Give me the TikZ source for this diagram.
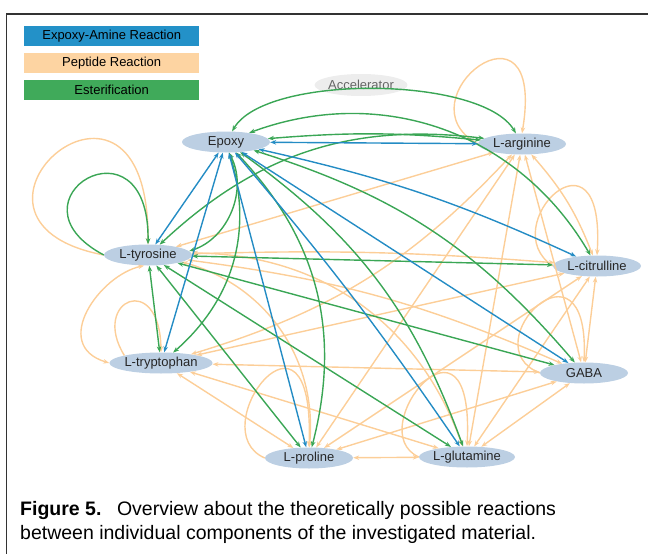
\documentclass[tikz,border=0pt]{standalone}
\usepackage{fontspec}
\setmainfont{Liberation Sans}
\usetikzlibrary{arrows.meta,shapes.geometric}

\definecolor{nodeblue}{RGB}{188,207,227}
\definecolor{amineblue}{RGB}{36,140,196}
\definecolor{estergreen}{RGB}{58,166,85}
\definecolor{peptideorange}{RGB}{252,206,152}
\definecolor{legendblue}{RGB}{35,145,200}
\definecolor{legendpeach}{RGB}{253,212,162}
\definecolor{legendgreen}{RGB}{64,170,90}

\begin{document}
\begin{tikzpicture}[x=1pt,y=1pt,
  compound/.style={ellipse, fill=nodeblue, minimum width=88pt, minimum height=21pt,
    inner sep=0pt, text=black!85, font=\fontsize{13}{15}\selectfont},
  amine/.style={draw=amineblue, line width=1.4pt,
    {Stealth[length=6pt,width=4.5pt]}-{Stealth[length=6pt,width=4.5pt]}},
  ester/.style={amine, draw=estergreen},
  peptide/.style={amine, draw=peptideorange},
  selfloop/.style={-{Stealth[length=6pt,width=4.5pt]}},
  legendbox/.style={anchor=north west, minimum width=175pt, minimum height=20pt,
    inner sep=0pt, font=\fontsize{13}{15}\selectfont}]
\useasboundingbox (0,0) rectangle (648,-554);
\draw[line width=1.6pt, black!80] (6.5,-554) -- (6.5,-14) -- (648,-14);

% legend
\node[legendbox, fill=legendblue] (legamine) at (24,-26) {Expoxy-Amine Reaction};
\node[legendbox, fill=legendpeach] (legpeptide) at (24,-53) {Peptide Reaction};
\node[legendbox, fill=legendgreen] (legester) at (24,-80) {Esterification};

% components
\node[compound] (ep) at (226,-142) {Epoxy};
\node[compound] (arg) at (522,-144) {L-arginine};
\node[compound] (tyr) at (148,-255) {L-tyrosine};
\node[compound] (cit) at (597,-266) {L-citrulline};
\node[compound] (trp) at (161,-363) {L-tryptophan};
\node[compound] (gaba) at (584,-373) {GABA};
\node[compound] (pro) at (309,-458) {L-proline};
\node[compound] (gln) at (467,-457) {L-glutamine};
\node[compound, fill=black!7, text=black!60, minimum width=86pt, minimum height=22pt] (acc) at (361,-85) {Accelerator};

% peptide reactions
\draw[peptide] (tyr) -- (arg);
\draw[peptide] (tyr) to[bend left=3] (cit);
\draw[peptide] (tyr) to[bend left=8] (gaba);
\draw[peptide] (tyr) to[bend left=35] (gln);
\draw[peptide] (tyr) to[bend left=40] (pro);
\draw[peptide] (arg) to[bend left=15] (trp);
\draw[peptide] (arg) -- (pro);
\draw[peptide] (arg) -- (gln);
\draw[peptide] (arg) -- (gaba);
\draw[peptide] (arg) to[bend left=10] (cit);
\draw[peptide] (cit) -- (trp);
\draw[peptide] (cit) -- (gaba);
\draw[peptide] (cit) -- (pro);
\draw[peptide] (cit) -- (gln);
\draw[peptide] (gaba) -- (trp);
\draw[peptide] (gaba) -- (pro);
\draw[peptide] (gaba) -- (gln);
\draw[peptide] (pro) -- (gln);
\draw[peptide] (trp) -- (pro);
\draw[peptide] (trp) -- (gln);
\draw[peptide] (trp.west) .. controls (50,-345) and (100,-275) .. (tyr.250);
\draw[peptide, selfloop] (arg.west) .. controls (398,-100) and (547,16) .. (arg.north);
\draw[peptide, selfloop] (cit.west) .. controls (493,-226) and (606,-115) .. (cit.north);
\draw[peptide, selfloop] (tyr.west) .. controls (-80,-220) and (150,-20) .. (tyr.north);
\draw[peptide, selfloop] (trp.north west) .. controls (90,-300) and (160,-270) .. (trp.north);
\draw[peptide, selfloop] (gaba.west) .. controls (470,-345) and (590,-225) .. (gaba.north);
\draw[peptide, selfloop] (gln.west) .. controls (360,-430) and (475,-290) .. (gln.north);
\draw[peptide, selfloop] (pro.west) .. controls (200,-430) and (315,-280) .. (pro.north);

% esterification
\draw[ester] (ep) to[out=60,in=120,looseness=0.6] (arg);
\draw[ester] (ep) to[bend left=5] (arg);
\draw[ester] (ep) to[bend left=40] (cit);
\draw[ester] (ep) to[bend left=16] (gaba);
\draw[ester] (ep) to[bend left=17] (gln);
\draw[ester] (ep) to[bend left=29] (pro);
\draw[ester] (ep) to[bend left=33] (trp);
\draw[ester] (ep) to[bend left=50] (tyr);
\draw[ester] (tyr) to[bend left=25] (arg);
\draw[ester] (tyr) -- (cit);
\draw[ester] (tyr) -- (gaba);
\draw[ester] (tyr) -- (gln);
\draw[ester] (tyr) -- (pro);
\draw[ester] (tyr) -- (trp);
\draw[ester, selfloop] (tyr.west) .. controls (0,-200) and (150,-110) .. (tyr.north);

% epoxy-amine
\draw[amine] (ep) -- (arg);
\draw[amine] (ep) to[bend left=6] (cit);
\draw[amine] (ep) -- (gaba);
\draw[amine] (ep) to[bend left=3] (gln);
\draw[amine] (ep) -- (pro);
\draw[amine] (ep) -- (trp);
\draw[amine] (ep) -- (tyr);

% caption
\node[anchor=base west, inner sep=0pt, font=\fontsize{19.5}{24}\selectfont] (cap1) at (20,-515)
  {\textbf{Figure 5.}\hspace{0.8em}Overview about the theoretically possible reactions};
\node[anchor=base west, inner sep=0pt, font=\fontsize{19.5}{24}\selectfont] (cap2) at (20,-539)
  {between individual components of the investigated material.};
\end{tikzpicture}
\end{document}
